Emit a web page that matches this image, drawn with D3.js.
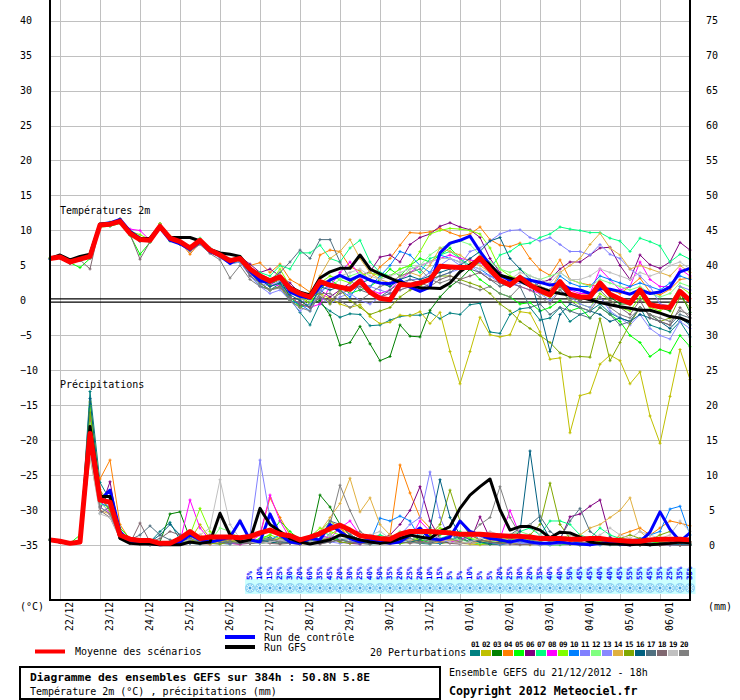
<!DOCTYPE html>
<html>
<head>
<meta charset="utf-8">
<script src="https://cdn.jsdelivr.net/npm/d3@7"></script>
<style>
  body { margin: 0; background: #fff; }
  text { font-family: "DejaVu Sans Mono", monospace; fill: #000; }
</style>
</head>
<body>
<svg class="gefs" width="740" height="700"></svg>
<script>
const dayLabels = ['22/12','23/12','24/12','25/12','26/12','27/12','28/12','29/12','30/12','31/12','01/01','02/01','03/01','04/01','05/01','06/01'];
const tempTicks = [-35,-30,-25,-20,-15,-10,-5,0,5,10,15,20,25,30,35,40];
const precipTicks = [0,5,10,15,20,25,30,35,40,45,50,55,60,65,70,75];
const memberNames = ['01','02','03','04','05','06','07','08','09','10','11','12','13','14','15','16','17','18','19','20'];
const memberColors = ['#008080','#c0c000','#008000','#ff8000','#00ff00','#800080','#00ff80','#ff00ff','#80ff00','#0080ff',
  '#8080ff','#80ff80','#8888ff','#e0b040','#80a800','#006080','#507080','#806870','#c0c0c0','#808080'];

// 2m temperature, every 6h from 21/12 18h
const tMean = [6.0,6.2,5.5,5.9,6.3,10.8,10.9,11.3,9.6,8.7,8.6,10.6,8.9,8.4,7.5,8.6,7.2,6.5,5.7,6.0,
  4.5,3.5,2.8,3.4,1.7,1.0,0.5,2.7,2.2,1.9,1.6,2.8,1.2,0.3,0.1,2.3,2.2,2.5,3.0,4.9,
  4.8,4.7,4.7,6.1,4.4,2.9,2.2,3.3,2.2,1.4,0.8,2.7,0.9,0.5,0.5,2.5,0.9,0.2,-0.4,1.5,-0.6,-0.9,-1.0,1.3,0.0];
const tGfs = [6.0,6.5,5.8,6.3,6.6,10.9,11.0,11.4,9.8,8.8,8.9,10.7,9.0,9.0,9.0,8.5,7.3,6.8,6.6,6.3,
  4.6,3.6,2.9,3.4,1.9,1.2,0.8,3.2,4.1,4.6,4.6,6.5,4.5,3.8,3.2,2.6,2.2,1.8,1.8,1.7,
  2.5,4.1,5.1,6.0,5.1,3.6,3.2,2.8,2.1,1.8,1.3,1.0,0.8,0.5,0.1,-0.3,-0.6,-0.9,-1.1,-1.4,-1.4,-1.8,-2.3,-2.5,-3.1];
const tCtrl = [6.0,6.3,5.6,6.1,6.5,10.9,11.1,11.6,9.9,8.9,8.6,10.4,8.6,8.1,7.3,8.4,7.0,6.4,5.3,6.1,
  4.2,2.8,2.6,3.4,1.2,0.6,0.3,2.0,2.9,3.6,2.9,3.6,2.9,2.5,2.4,2.9,1.9,1.3,1.9,6.8,
  8.2,8.6,9.2,7.0,5.1,3.6,2.9,3.1,2.9,2.6,2.2,2.4,1.7,1.5,1.0,1.7,1.6,1.3,0.9,1.5,1.0,1.2,1.9,4.1,4.6];

const t01 = [6.0,6.3,5.4,6.0,6.6,10.7,10.8,11.2,9.5,8.5,8.7,10.5,8.8,8.0,7.2,8.4,7.0,6.2,5.3,5.5,
  3.6,2.1,1.5,2.4,0.2,-1.7,-3.5,-0.4,-1.5,-2.4,-1.9,-2.0,-3.6,-3.5,-2.8,-2.3,-2.1,-2.1,-1.7,-2.6,
  -1.8,-2.0,-0.6,-0.4,-4.5,-4.7,-2.0,-1.2,-1.0,-2.8,-2.5,-1.0,-3.0,-2.0,-1.5,-0.5,-1.8,-2.5,-3.0,-1.0,-3.5,-4.0,-4.5,-3.0,-5.2];
const t02 = [6.1,6.4,5.8,6.2,6.4,11.0,11.2,11.5,9.8,9.0,8.9,11.0,9.2,8.6,7.8,8.5,7.4,6.3,5.8,6.2,
  4.5,3.0,2.0,2.5,0.5,-0.5,-1.0,1.0,0.3,-0.5,-1.0,-0.6,-2.3,-3.3,-3.1,-2.1,-2.2,-1.6,-3.3,-1.7,
  -7.3,-11.9,-7.3,-2.4,-4.9,-5.2,-4.9,-1.6,-1.8,-4.5,-8.4,-8.2,-18.9,-13.6,-13.2,-9.1,-7.8,-8.6,-11.9,-10.2,-16.5,-20.4,-13.7,-7.0,-11.3];
const t03 = [6.0,6.2,5.3,5.8,6.2,10.6,10.7,11.2,9.4,8.5,8.4,10.4,8.6,8.2,7.4,8.5,7.1,6.4,5.6,5.8,
  4.2,3.0,2.3,3.0,0.5,-0.8,-0.5,0.0,-2.1,-6.4,-6.0,-3.7,-6.2,-8.6,-8.0,-3.5,-5.1,-5.2,-1.4,0.5,
  2.0,3.0,4.5,5.5,4.0,2.5,2.0,3.0,2.0,1.5,0.8,2.0,0.5,0.0,0.5,2.3,0.5,-0.5,-0.5,1.0,-0.8,-1.0,-1.5,1.2,-1.7];
const t04 = [6.0,6.2,5.6,6.0,6.3,10.9,11.0,11.4,9.6,8.8,8.5,10.5,8.8,8.4,6.6,8.3,7.3,6.6,5.9,6.3,
  5.0,5.4,4.0,5.2,3.0,2.2,1.2,6.5,7.2,7.0,4.8,4.2,3.0,4.8,6.0,7.9,9.7,9.6,9.8,10.3,
  9.7,9.2,9.5,10.5,8.7,7.9,7.7,8.2,6.0,4.4,3.6,5.8,3.0,2.5,2.2,2.0,1.5,1.0,2.0,3.2,1.2,0.8,1.6,3.0,3.2];
const t05 = [5.9,6.1,5.4,4.7,6.0,10.5,10.6,11.0,9.3,6.6,8.3,10.2,8.5,8.2,7.2,8.4,7.0,6.2,5.4,5.5,
  4.0,2.5,1.5,2.0,0.5,-1.0,-0.5,1.5,3.0,2.0,1.0,1.5,2.0,3.0,4.5,3.5,5.0,6.0,5.5,6.5,
  7.5,6.0,4.5,3.0,2.0,1.0,0.5,-0.5,-0.3,-1.5,-1.0,0.0,-1.5,-1.0,-2.5,-1.0,-2.0,-3.0,-5.0,-6.0,-8.0,-7.0,-7.5,-5.0,-6.6];
const t06 = [6.0,6.3,5.6,6.1,6.4,10.9,11.0,11.5,9.7,8.8,8.7,10.7,9.0,8.5,7.6,8.7,7.4,6.7,5.9,6.2,
  5.2,4.0,4.5,3.5,2.5,1.0,0.5,1.5,0.5,1.5,2.5,3.5,4.1,6.2,6.5,5.5,8.0,9.0,9.5,10.6,
  11.1,10.5,10.1,9.0,6.0,4.0,2.5,3.0,2.0,2.5,3.0,4.5,5.5,5.5,6.5,7.5,7.6,5.0,3.0,6.5,5.1,4.6,5.5,8.3,7.2];
const t07 = [6.0,6.2,5.5,5.9,6.5,10.8,11.0,11.4,9.8,8.9,8.6,10.7,9.0,8.5,7.5,8.9,7.5,6.6,5.8,6.3,
  4.5,4.0,3.5,5.0,4.5,6.8,6.8,7.9,6.0,5.5,7.5,8.6,5.5,4.0,3.5,4.5,5.0,4.0,6.0,6.5,
  7.0,6.0,5.0,5.5,4.5,6.5,7.0,8.0,8.2,9.0,9.5,10.5,10.2,10.0,9.7,9.7,8.9,8.5,7.0,8.9,8.4,7.8,5.5,6.6,5.9];
const t08 = [6.0,6.2,5.5,5.8,6.3,10.7,10.9,11.2,10.2,10.0,8.6,10.6,8.8,8.3,7.4,8.5,7.1,6.4,5.6,5.9,
  4.2,3.0,2.5,2.0,0.5,-0.5,-1.0,-0.5,2.0,4.0,5.5,3.5,1.5,1.0,1.5,3.0,4.0,5.0,5.5,6.0,
  6.5,6.0,5.8,5.5,4.0,3.0,2.5,2.0,1.5,1.0,1.5,2.5,1.5,1.0,1.0,4.5,3.0,1.5,2.0,5.5,3.0,2.0,2.0,4.5,3.5];
const t09 = [6.0,6.3,5.6,6.0,6.4,10.9,11.1,11.6,9.9,9.4,8.7,10.7,9.0,8.5,7.6,8.8,7.3,6.5,5.9,6.2,
  4.8,3.5,2.5,4.5,2.0,0.5,-0.5,2.5,3.5,3.0,2.5,3.5,4.0,3.5,3.5,4.5,5.0,7.0,9.5,10.0,
  10.3,10.2,10.0,9.5,7.5,4.5,3.5,3.0,2.0,1.0,0.5,1.5,0.0,-0.5,-1.0,1.0,0.0,-1.0,-1.5,0.5,-1.0,-1.5,-0.5,2.0,1.0];
const t10 = [5.9,6.1,5.4,5.8,6.2,10.7,10.8,11.2,9.5,8.6,8.5,10.4,8.7,8.2,7.3,8.4,7.0,6.3,5.5,5.8,
  4.0,3.0,2.0,2.5,0.0,-0.5,-1.5,1.0,2.5,1.5,0.5,2.5,2.0,3.5,5.0,7.0,6.5,5.0,4.0,6.5,
  6.0,5.5,5.0,4.5,3.5,3.0,2.5,3.5,3.0,2.0,1.5,3.5,2.5,2.0,2.0,3.5,3.0,2.5,2.0,2.5,2.0,1.5,2.5,3.5,3.0];
const t11 = [6.0,6.2,5.5,5.9,6.3,10.8,10.9,11.3,9.6,8.7,8.6,10.6,8.9,8.4,7.5,8.6,7.2,6.5,5.7,6.0,
  3.8,2.5,2.0,2.8,1.5,0.5,-1.0,1.5,2.0,1.5,2.0,2.5,2.0,1.5,1.0,2.0,3.0,3.0,4.0,5.0,
  6.0,5.0,7.0,7.5,8.5,9.5,10.0,10.1,9.0,8.5,9.0,8.0,7.0,7.0,6.5,8.0,6.6,6.0,4.5,3.5,2.0,-0.5,-0.8,2.0,1.5];
const t12 = [6.1,6.4,5.7,6.1,6.5,11.0,11.1,11.5,9.7,8.9,8.8,10.9,9.1,8.6,7.7,8.7,7.3,6.6,5.8,6.2,
  4.5,3.5,3.0,3.5,1.5,0.5,0.0,2.5,2.0,3.0,3.5,4.0,3.0,2.5,2.0,3.0,4.5,5.0,6.5,7.5,
  8.0,8.5,8.0,6.5,5.5,4.5,4.0,4.5,3.5,3.0,3.5,4.0,3.0,2.5,2.0,3.0,2.5,2.0,1.5,2.0,1.0,0.5,1.0,2.5,2.0];
const t13 = [5.9,6.1,5.3,5.7,6.1,10.6,10.7,11.1,9.4,8.5,8.4,10.3,8.6,8.1,7.2,8.2,6.9,6.1,5.2,5.5,
  3.5,2.0,1.0,1.5,0.0,-1.5,-0.5,0.5,-0.5,0.5,1.0,0.0,-0.5,0.5,1.0,1.5,2.0,1.5,2.5,3.5,
  4.0,4.5,5.0,4.0,3.5,2.5,2.0,2.5,2.0,1.0,0.0,1.5,0.5,-0.5,-1.0,0.5,-1.5,-2.5,-3.5,-2.0,-4.0,-5.0,-5.5,-3.0,-4.0];
const t14 = [6.0,6.3,5.6,6.0,6.4,10.9,11.0,11.4,9.7,8.8,8.7,10.7,9.0,8.5,7.6,8.7,7.3,6.6,5.8,6.1,
  4.6,3.3,2.5,3.0,1.5,0.0,1.0,3.5,6.0,7.0,8.7,6.0,4.0,3.0,2.5,3.5,4.0,3.5,5.0,7.5,
  7.0,6.5,5.5,5.0,4.0,3.0,2.5,3.5,2.5,2.0,1.5,4.0,5.0,6.0,8.0,9.6,7.5,6.5,4.5,5.0,4.5,4.0,3.5,5.0,4.0];
const t15 = [6.0,6.2,5.5,5.9,6.3,10.8,11.0,11.7,9.6,8.7,8.6,11.0,8.9,8.4,7.5,8.6,7.2,6.5,5.7,6.0,
  4.0,2.5,1.5,2.0,0.0,-1.0,0.5,1.0,-0.5,1.5,0.0,-1.0,-2.0,-1.5,-1.0,0.5,1.5,2.0,3.0,3.5,
  3.5,3.0,2.5,2.0,1.0,-0.5,-1.5,-3.0,-4.0,-5.0,-6.0,-7.5,-8.1,-8.0,-8.1,-2.6,-8.6,-6.0,-3.3,-1.0,-2.0,-3.0,-2.5,0.5,-1.0];
const t16 = [6.0,6.2,5.4,5.8,6.2,10.7,10.8,11.2,9.5,8.6,8.5,10.5,8.8,8.3,7.4,8.5,7.1,6.4,5.6,5.9,
  4.3,3.0,2.0,2.5,0.8,0.0,-1.0,2.0,1.5,2.0,1.5,2.5,3.0,2.5,2.0,3.0,3.5,3.0,3.5,4.0,
  4.5,5.0,6.0,7.0,8.5,9.0,6.0,4.5,3.0,-1.5,-7.3,-2.0,-0.5,-1.0,-1.5,-2.0,-3.0,-2.5,-3.0,-2.0,-2.5,-3.0,-4.0,-2.5,-3.5];
const t17 = [6.0,6.3,5.5,6.0,6.3,10.8,11.0,11.3,9.6,8.7,8.6,10.6,8.9,8.3,7.5,8.6,7.2,6.5,5.7,6.0,
  4.4,3.5,3.0,4.0,5.5,7.2,6.0,8.7,8.7,5.5,3.0,1.5,1.0,0.5,1.5,2.5,3.0,2.5,3.0,3.5,
  4.0,5.0,4.5,4.0,3.0,2.0,2.5,2.0,-1.0,-0.5,-2.0,-1.0,-1.5,-2.0,-2.5,-1.0,-2.0,-3.5,-3.0,-1.0,-2.0,-3.0,-3.5,-2.0,-2.5];
const t18 = [6.0,6.2,5.4,5.8,4.5,10.7,10.8,11.2,9.5,5.9,8.4,10.4,8.7,8.2,7.3,8.4,7.0,6.3,5.5,5.8,
  3.5,2.5,1.5,2.0,0.5,-0.5,-1.0,0.5,0.0,1.0,1.5,2.0,1.0,0.5,1.0,1.5,2.0,2.5,2.0,3.0,
  3.5,3.0,3.5,4.0,3.0,2.5,2.0,3.0,2.0,1.5,1.0,2.0,0.5,0.0,0.5,1.5,0.0,-1.0,-2.0,0.0,-2.5,-3.0,-3.5,-1.0,-2.5];
const t19 = [6.0,6.3,5.6,6.0,6.4,10.9,11.1,11.5,9.7,8.8,8.7,10.8,9.0,8.5,7.6,8.7,7.3,6.6,5.8,6.1,
  4.6,3.4,2.8,3.5,2.0,1.0,0.5,2.5,3.0,3.5,4.0,4.5,3.5,3.0,3.5,4.0,4.5,5.0,5.5,6.0,
  6.0,5.5,5.0,4.5,4.0,3.5,3.0,4.0,3.5,3.0,2.5,4.0,3.0,3.0,3.5,4.5,4.0,3.5,3.0,4.0,3.5,4.0,5.0,5.5,4.5];
const t20 = [6.0,6.1,5.5,5.8,6.0,10.6,10.7,11.1,9.4,8.5,8.4,10.3,8.6,8.0,7.0,8.0,6.7,5.8,3.2,5.0,
  3.0,2.0,1.5,1.8,0.0,-1.0,-1.5,1.0,1.0,0.0,-1.0,0.0,1.0,2.0,2.5,3.5,4.0,4.5,3.0,2.5,
  3.0,2.5,2.0,1.5,2.0,1.0,0.5,2.0,1.5,0.5,-0.5,1.5,0.0,-1.0,-1.5,0.5,-1.0,-2.0,-2.5,-1.0,-2.0,-2.5,-3.0,-1.5,-2.0];

// precipitation (mm / 6h)
const pMean = [0.8,0.6,0.3,0.5,16.0,6.5,6.2,1.5,0.9,0.7,0.7,0.3,0.3,1.0,2.0,1.0,1.2,1.2,1.2,1.1,
  1.3,1.8,2.2,1.6,1.4,0.8,1.2,1.7,2.4,2.9,2.2,1.4,1.2,1.0,0.9,1.6,2.0,2.0,2.0,1.9,
  1.8,1.6,1.6,1.6,1.5,1.4,1.3,1.3,1.2,1.0,1.0,1.0,0.9,0.9,1.0,1.0,0.8,0.7,0.6,0.6,0.8,0.9,0.9,0.9,0.8];
const pGfs = [0.9,0.5,0.3,0.5,17.0,7.0,7.0,1.0,0.3,0.2,0.2,0.1,0.1,0.1,0.5,0.3,0.5,4.6,1.5,0.5,
  0.8,5.3,3.0,2.0,1.0,0.5,0.2,0.5,0.8,1.5,1.2,0.8,0.5,0.3,0.5,1.0,1.5,1.2,1.0,2.0,
  2.7,5.3,7.2,8.4,9.5,5.1,2.2,2.7,2.7,2.2,1.1,1.9,1.8,1.2,0.5,0.3,0.2,0.2,0.1,0.2,0.1,0.2,0.3,0.5,0.4];
const pCtrl = [0.8,0.5,0.3,0.5,15.0,6.5,7.9,2.0,0.5,0.3,0.3,0.1,0.2,0.5,1.5,0.8,0.5,0.8,1.2,3.5,
  0.8,0.5,4.5,1.5,0.5,0.3,1.0,0.8,3.0,2.0,1.0,0.5,0.8,0.5,0.3,0.5,1.5,2.5,1.0,0.8,
  1.2,3.5,2.0,1.5,1.0,0.8,0.5,0.8,0.5,0.3,0.3,0.5,0.3,0.2,0.1,0.3,0.5,0.2,0.1,0.5,1.9,4.8,2.3,0.6,1.8];

const p01 = [0.9,0.5,0.3,0.6,22.0,9.0,6.5,1.5,0.5,0.3,0.5,2.0,3.3,0.8,0.3,0.2,0.5,0.3,0.2,0.5,
  0.3,0.8,1.2,0.5,0.3,0.2,0.5,0.8,1.5,0.8,0.5,0.3,0.2,0.3,0.8,1.2,0.5,0.3,0.2,0.5,
  0.8,1.2,0.5,0.3,0.2,0.1,0.3,0.5,0.3,0.2,0.1,0.2,0.3,0.5,0.2,0.1,0.2,0.3,0.2,0.1,0.2,0.3,0.5,0.3,0.2];
const p02 = [0.8,0.6,0.3,0.5,20.5,8.0,5.5,1.0,0.3,0.2,0.2,0.3,0.5,0.2,0.8,3.0,1.0,0.5,0.3,0.2,
  0.5,0.8,0.5,0.3,0.5,0.2,0.3,0.8,1.5,2.5,1.5,0.8,0.5,0.3,0.2,0.5,1.0,0.8,0.5,0.3,
  0.5,0.3,0.2,0.1,0.3,0.5,0.3,0.2,0.1,0.2,0.3,0.5,0.2,0.1,0.1,0.2,0.3,0.2,0.1,0.1,0.2,0.1,0.2,0.1,0.1];
const p03 = [0.8,0.5,0.3,0.8,18.0,7.5,6.0,1.8,0.5,0.3,0.2,0.5,4.5,4.8,1.0,0.5,0.3,0.5,0.8,0.5,
  0.3,0.5,1.0,0.8,0.5,0.3,0.8,7.2,5.5,3.0,1.5,0.8,0.5,0.3,0.5,1.0,1.5,0.8,0.5,0.3,
  0.5,1.0,0.5,0.3,0.2,0.3,0.5,0.3,0.2,0.1,0.2,0.3,0.2,0.1,0.2,0.5,0.3,0.2,0.1,0.2,0.3,0.5,0.3,0.2,0.5];
const p04 = [0.9,0.6,0.4,0.5,13.0,9.5,12.2,3.0,0.8,0.3,0.2,0.3,0.2,0.5,0.8,1.5,0.8,0.5,0.3,0.5,
  0.8,1.5,6.8,4.0,1.5,0.8,0.5,2.0,3.5,2.5,1.0,0.5,0.3,0.8,1.5,11.5,7.5,4.0,2.5,1.0,
  0.8,0.5,0.3,0.5,1.0,0.8,0.5,0.3,0.2,0.5,0.3,0.2,0.5,1.0,0.8,0.5,0.3,1.5,2.0,2.5,1.5,2.5,3.5,3.2,2.8];
const p05 = [0.8,0.5,0.3,1.5,19.5,7.0,5.0,2.5,1.0,0.5,0.3,0.2,0.5,0.3,0.5,0.8,0.5,0.3,0.5,0.3,
  0.5,1.0,1.5,3.5,2.0,0.8,0.5,1.5,1.0,0.8,0.5,0.3,0.5,0.8,0.5,0.3,0.5,0.8,0.5,1.5,
  2.0,1.0,0.5,0.3,0.5,0.8,1.0,0.5,0.3,0.2,0.1,0.1,0.2,0.1,0.1,0.2,0.1,0.1,0.2,0.1,0.1,0.2,0.1,0.1,0.1];
const p06 = [0.8,0.5,0.3,0.5,16.0,5.0,9.1,1.5,0.5,0.2,0.1,0.2,0.3,0.2,0.5,0.3,0.2,0.5,0.3,0.2,
  0.3,0.5,0.8,0.5,0.3,0.2,0.5,0.8,1.0,0.5,0.3,0.2,0.5,0.8,1.5,3.0,5.0,8.4,3.5,1.0,
  0.5,0.3,0.5,4.1,1.0,0.5,0.3,0.8,0.5,0.3,0.5,0.8,4.1,4.5,5.6,6.5,1.2,0.5,0.3,0.2,0.2,0.1,0.1,0.1,0.0];
const p07 = [0.8,0.5,0.3,0.5,17.0,6.0,5.5,1.0,0.3,0.2,0.3,0.5,0.3,0.2,0.5,0.8,1.5,1.0,0.5,0.3,
  0.5,0.3,0.5,1.0,0.8,0.5,1.2,2.0,1.5,1.0,0.5,0.8,1.0,1.5,1.0,0.5,0.8,1.5,2.0,1.0,
  1.5,2.0,1.0,0.5,0.8,1.5,1.0,2.0,2.5,1.5,3.5,3.5,3.0,1.5,1.0,2.5,1.5,1.0,0.8,0.5,0.3,0.5,0.3,0.2,0.1];
const p08 = [0.8,0.5,0.3,0.5,18.5,6.5,4.5,1.0,0.3,0.2,0.1,0.2,0.3,0.5,6.5,2.5,0.8,0.5,0.3,0.2,
  0.5,1.5,7.2,3.5,1.0,0.5,0.8,1.5,1.0,2.5,3.5,1.5,0.8,0.5,0.3,0.5,1.0,3.5,2.0,0.8,
  0.5,0.8,1.5,0.8,0.5,1.0,5.0,1.5,0.3,0.2,0.3,0.5,0.3,0.2,0.1,0.2,0.3,0.2,0.1,0.5,0.8,0.5,0.3,0.8,0.5];
const p09 = [0.8,0.5,0.3,0.5,20.0,7.0,5.0,1.0,0.3,0.2,0.2,0.3,0.5,0.8,1.5,5.3,2.0,0.8,0.5,0.3,
  0.5,0.8,1.5,1.0,0.5,0.8,1.2,2.5,2.0,1.5,1.0,0.8,0.5,0.3,0.5,0.8,1.0,0.8,1.5,2.5,
  2.0,1.5,1.0,0.8,0.5,0.3,0.5,1.0,0.8,0.5,0.3,0.5,0.8,0.5,0.3,0.5,0.3,0.2,0.5,0.3,0.2,0.5,0.3,0.2,0.1];
const p10 = [0.8,0.5,0.3,0.5,15.0,6.0,5.5,1.2,0.3,0.2,0.1,0.2,0.3,0.2,0.5,0.8,0.5,0.3,0.5,0.8,
  1.0,0.5,0.8,1.5,1.0,0.5,0.3,1.5,2.5,3.0,1.5,0.8,0.5,3.9,3.5,4.2,3.5,1.0,0.5,0.3,
  0.8,1.5,2.0,0.8,0.5,0.3,0.5,0.8,0.5,0.3,0.2,0.5,0.8,0.3,0.2,0.1,0.3,0.5,0.8,1.0,1.5,2.0,5.2,5.6,1.5];
const p11 = [0.8,0.5,0.3,0.5,14.0,5.5,4.5,1.0,0.3,0.2,0.1,0.2,0.3,0.2,0.5,1.0,0.8,0.5,0.3,0.5,
  1.5,12.2,4.0,1.5,0.5,0.3,0.5,0.8,1.5,1.0,0.5,0.3,0.5,0.8,0.5,1.5,3.0,4.0,10.5,4.0,
  0.8,0.5,0.3,0.5,0.3,0.2,0.3,0.5,0.3,0.2,0.1,0.2,0.3,0.2,0.1,0.2,0.1,0.1,0.2,0.1,0.1,0.2,0.1,0.1,0.1];
const p12 = [0.8,0.5,0.3,0.5,17.5,6.0,5.0,1.5,0.5,0.3,0.2,0.3,0.5,0.3,0.8,1.0,0.5,2.5,2.0,1.0,
  0.5,0.8,1.0,0.5,0.3,0.5,1.0,2.0,3.5,2.0,1.0,0.5,0.3,0.5,1.0,2.0,1.5,1.0,0.5,0.8,
  1.0,0.8,0.5,0.3,0.5,0.8,1.5,2.0,1.5,1.0,0.8,1.0,1.5,1.0,0.5,0.3,0.5,0.3,0.2,0.1,0.2,0.3,0.2,0.1,0.1];
const p13 = [0.8,0.5,0.3,0.5,16.5,6.5,5.5,1.0,0.3,0.2,0.3,0.2,0.1,0.2,0.3,0.5,0.3,0.2,0.5,0.8,
  0.5,0.3,0.5,0.8,0.5,0.3,0.5,0.8,0.5,0.3,0.5,0.8,1.0,0.5,0.3,0.5,0.8,0.5,0.3,0.5,
  0.8,0.5,0.3,0.5,0.8,1.0,0.5,0.3,0.2,0.1,0.2,0.3,0.2,0.1,0.1,0.2,0.3,0.2,0.1,0.1,0.1,0.2,0.1,0.1,0.1];
const p14 = [0.8,0.5,0.3,0.5,12.5,5.0,4.5,1.5,0.5,0.3,0.2,0.3,0.2,0.3,0.5,0.3,0.2,0.5,0.8,0.5,
  0.3,0.5,0.8,1.0,0.8,0.5,1.0,2.0,4.0,6.0,9.6,4.8,6.8,3.0,1.5,1.0,0.8,0.5,0.3,0.5,
  0.8,0.5,0.3,0.5,0.8,0.5,1.0,0.8,0.5,0.3,0.5,0.8,1.0,1.5,2.5,3.0,4.0,5.0,6.8,2.0,0.8,0.5,0.5,0.3,0.2];
const p15 = [0.8,0.5,0.3,0.5,19.0,7.0,5.0,1.2,0.3,0.2,0.1,0.2,0.3,0.5,0.8,0.5,0.3,0.2,0.5,0.8,
  0.5,0.3,0.5,1.0,1.5,1.0,0.5,0.8,1.0,0.5,0.3,0.5,0.8,1.0,0.5,0.3,0.5,0.8,1.5,3.0,
  7.9,3.5,1.5,0.8,0.5,0.3,0.5,0.8,1.5,3.0,8.9,3.0,1.0,0.5,0.3,0.5,0.8,1.0,1.5,1.0,0.8,1.5,2.0,1.0,0.5];
const p16 = [0.8,0.5,0.3,0.8,21.0,7.5,6.0,1.5,0.5,0.3,0.5,1.5,3.0,1.5,0.5,0.3,0.5,0.8,0.5,0.3,
  0.5,0.8,0.5,0.3,0.5,0.8,0.5,0.3,0.5,0.8,1.0,0.5,0.3,0.5,0.8,1.0,0.5,0.8,2.5,9.4,
  4.0,1.5,0.8,0.5,0.3,0.5,0.8,2.0,13.5,3.5,1.0,0.5,0.3,0.2,0.5,0.3,0.2,0.1,0.2,0.3,0.2,0.1,0.2,0.1,0.1];
const p17 = [0.8,0.5,0.3,0.5,15.5,4.6,5.5,2.0,0.8,1.5,2.8,1.5,0.8,0.5,0.3,0.5,0.8,0.5,0.3,0.5,
  0.3,0.5,0.8,0.5,0.3,0.5,0.3,1.0,3.5,3.0,1.5,0.8,0.5,0.3,0.5,0.8,1.0,0.5,0.3,0.8,
  1.5,1.0,0.5,0.8,1.2,1.0,1.5,2.5,3.0,4.2,2.0,1.0,3.5,5.3,2.0,1.0,0.5,0.8,0.5,0.3,0.2,0.3,0.5,0.3,0.2];
const p18 = [0.8,0.5,0.3,0.5,13.5,5.0,4.0,1.0,0.3,3.2,0.5,1.0,2.0,1.5,0.5,0.3,0.5,1.0,0.8,3.6,
  0.3,0.5,0.3,0.2,0.3,0.5,0.3,0.2,0.5,0.8,0.5,0.3,0.2,0.5,0.8,0.5,0.3,0.5,0.8,0.5,
  0.3,0.2,0.5,0.8,0.5,0.3,0.2,0.1,0.2,0.3,0.5,0.3,0.2,0.1,0.2,0.3,0.2,0.1,0.1,0.0,0.0,0.0,0.1,0.0,0.0];
const p19 = [0.8,0.5,0.3,0.5,12.8,4.5,4.0,1.0,0.3,0.2,0.1,0.2,0.3,0.5,0.8,1.5,2.5,9.4,3.0,1.0,
  0.5,0.3,0.5,0.8,0.5,0.3,0.5,0.8,1.5,1.0,0.8,0.5,1.5,2.0,1.0,0.5,0.8,1.5,2.0,1.0,
  0.5,0.3,0.5,1.0,2.0,1.5,1.0,2.5,3.0,1.5,1.0,2.0,1.5,1.0,0.8,1.5,2.5,1.5,1.0,2.0,1.5,1.0,1.5,3.5,2.0];
const p20 = [0.8,0.5,0.3,0.5,14.5,5.5,4.5,1.2,0.5,0.3,0.2,0.3,0.5,0.8,1.0,0.5,1.5,0.8,0.5,0.3,
  0.5,0.8,1.0,0.5,0.8,0.5,1.0,1.5,3.0,8.6,5.0,2.0,1.0,0.5,0.8,1.0,0.5,0.3,0.5,0.8,
  1.0,0.5,1.5,3.0,4.0,8.4,4.0,1.5,0.8,0.5,0.3,0.5,0.8,0.5,0.3,0.2,0.5,0.8,0.5,0.3,0.5,0.8,1.0,0.5,0.3];

// snow chance (%) and cover band, from step 20 (26/12 18h)
const snowPct = [5,10,15,25,30,20,60,35,45,20,30,25,40,50,35,20,25,20,10,15,5,5,10,
  5,5,20,25,30,20,35,40,40,50,45,45,40,40,45,55,55,45,35,25,35,35];
const snowBand = [1,1,1,5,5,3,2,2,2,2,2,2,2,3,3,3,2,2,2,2,2,2,1,
  1,1,4,4,4,5,5,5,6,11,11,12,12,12,12,12,12,12,12,12,12,12];

const tempMembers = [t01,t02,t03,t04,t05,t06,t07,t08,t09,t10,t11,t12,t13,t14,t15,t16,t17,t18,t19,t20];
const precipMembers = [p01,p02,p03,p04,p05,p06,p07,p08,p09,p10,p11,p12,p13,p14,p15,p16,p17,p18,p19,p20];

const svg = d3.select('.gefs');
const margin = { left: 50, top: 0, right: 50, bottom: 100 };
const width = 740 - margin.left - margin.right;
const height = 700 - margin.top - margin.bottom;
const firstSnowStep = 20;
const fs = 10;

const x = d3.scaleLinear().domain([0, 64]).range([margin.left, margin.left + width]);
const y = d3.scaleLinear().domain([-42.79, 42.93]).range([height, 0]);
const yP = d3.scaleLinear().domain([-7.79, 77.93]).range([height, 0]);
const band = d3.scaleLinear().domain([0, 12]).range([580, 568]);
const dayTicks = dayLabels.map((d, i) => 1 + i * 4);

svg.append('rect').attr('width', 740).attr('height', 700).attr('fill', '#fff');

// grid
svg.append('g')
    .attr('transform', `translate(${margin.left},0)`)
    .call(d3.axisLeft(y).tickValues(tempTicks.filter(d => d !== 0)).tickSize(-width).tickFormat(''))
    .call(g => g.select('.domain').remove())
    .selectAll('line')
    .attr('stroke', '#c0c0c0')
    .attr('shape-rendering', 'crispEdges');

svg.append('g')
    .attr('transform', `translate(0,${height})`)
    .call(d3.axisBottom(x).tickValues(dayTicks).tickSize(-height).tickFormat(''))
    .call(g => g.select('.domain').remove())
    .selectAll('line')
    .attr('stroke', '#c0c0c0')
    .attr('shape-rendering', 'crispEdges');

// zero line (double)
[-1.7, 1.7].forEach(off => {
    svg.append('line')
        .attr('x1', margin.left).attr('x2', margin.left + width)
        .attr('y1', y(0) + off).attr('y2', y(0) + off)
        .attr('stroke', '#000').attr('stroke-width', 1.2);
});

// snow band + flakes
const snowG = svg.append('g');
snowG.selectAll('rect')
    .data(snowBand)
    .join('rect')
    .attr('x', (d, i) => x(i + firstSnowStep) - 5)
    .attr('width', 10.5)
    .attr('y', d => band(d))
    .attr('height', d => 594 - band(d))
    .attr('fill', '#ccffff');

const flakes = snowG.selectAll('g.flake')
    .data(snowBand)
    .join('g')
    .attr('class', 'flake')
    .attr('transform', (d, i) => `translate(${x(i + firstSnowStep)},588)`);
flakes.append('circle').attr('r', 5).attr('fill', '#8fd3f3');
flakes.append('path')
    .attr('d', 'M-4,0H4M0,-4V4M-3,-3L3,3M-3,3L3,-3')
    .attr('stroke', '#e8f8ff').attr('stroke-width', 1);
flakes.append('circle').attr('r', 1.2).attr('fill', '#3b9fe0');

snowG.selectAll('text')
    .data(snowPct)
    .join('text')
    .attr('transform', (d, i) => `translate(${x(i + firstSnowStep) + 2},580) rotate(-90)`)
    .attr('font-size', 7.5)
    .attr('font-weight', 'bold')
    .style('fill', '#0000ff')
    .text(d => d + '%');

// series
const tLine = d3.line().x((d, i) => x(i)).y(d => y(d));
const pLine = d3.line().x((d, i) => x(i)).y(d => yP(d));
const crosses = (data, scale) => data.map((d, i) => `M${x(i) - 1.5},${scale(d)}h3M${x(i)},${scale(d) - 1.5}v3`).join('');

const drawMembers = (members, line, scale) => {
    const g = svg.append('g').attr('fill', 'none');
    members.forEach((m, k) => {
        g.append('path').attr('d', line(m)).attr('stroke', memberColors[k]).attr('stroke-width', 1);
        g.append('path').attr('d', crosses(m, scale)).attr('stroke', memberColors[k]).attr('stroke-width', 1);
    });
};
drawMembers(precipMembers, pLine, yP);
drawMembers(tempMembers, tLine, y);

const mains = svg.append('g').attr('fill', 'none').attr('stroke-linejoin', 'round');
mains.append('path').attr('d', pLine(pCtrl)).attr('stroke', '#0000ff').attr('stroke-width', 3);
mains.append('path').attr('d', pLine(pGfs)).attr('stroke', '#000').attr('stroke-width', 3);
mains.append('path').attr('d', tLine(tCtrl)).attr('stroke', '#0000ff').attr('stroke-width', 3);
mains.append('path').attr('d', tLine(tGfs)).attr('stroke', '#000').attr('stroke-width', 3);
mains.append('path').attr('d', pLine(pMean)).attr('stroke', '#ff0000').attr('stroke-width', 5);
mains.append('path').attr('d', tLine(tMean)).attr('stroke', '#ff0000').attr('stroke-width', 5);

// frame
svg.append('path')
    .attr('d', `M${margin.left},0V${height}H${margin.left + width}V0`)
    .attr('fill', 'none').attr('stroke', '#000').attr('stroke-width', 2);

// axes labels
const leftAxis = svg.append('g')
    .attr('transform', `translate(${margin.left},0)`)
    .call(d3.axisLeft(y).tickValues(tempTicks).tickSize(0));
leftAxis.select('.domain').remove();
leftAxis.attr('font-family', null).attr('font-size', fs);
leftAxis.selectAll('text').attr('x', -30).attr('text-anchor', 'start');

const rightAxis = svg.append('g')
    .attr('transform', `translate(${margin.left + width},0)`)
    .call(d3.axisRight(yP).tickValues(precipTicks).tickSize(0));
rightAxis.select('.domain').remove();
rightAxis.attr('font-family', null).attr('font-size', fs);
rightAxis.selectAll('text').attr('x', 22).attr('text-anchor', 'middle');

const dateAxis = svg.append('g')
    .attr('transform', `translate(0,${height})`)
    .call(d3.axisBottom(x).tickValues(dayTicks).tickSize(0).tickFormat((d, i) => dayLabels[i]));
dateAxis.select('.domain').remove();
dateAxis.attr('font-family', null).attr('font-size', 9.6);
dateAxis.selectAll('text')
    .attr('transform', 'rotate(-90)')
    .attr('x', -2).attr('y', 12).attr('dy', 0)
    .attr('text-anchor', 'end');

const label = (tx, ty, str, size, bold) => svg.append('text')
    .attr('x', tx).attr('y', ty)
    .attr('font-size', size)
    .attr('font-weight', bold ? 'bold' : 'normal')
    .text(str);

label(60, 214, 'Températures 2m', fs);
label(60, 388, 'Précipitations', fs);
label(20, 610, '(°C)', fs);
label(708, 610, '(mm)', fs);

// legend
const legend = svg.append('g');
legend.append('line').attr('x1', 35).attr('x2', 65).attr('y1', 651.5).attr('y2', 651.5)
    .attr('stroke', '#ff0000').attr('stroke-width', 4);
legend.append('line').attr('x1', 225).attr('x2', 255).attr('y1', 637).attr('y2', 637)
    .attr('stroke', '#0000ff').attr('stroke-width', 4);
legend.append('line').attr('x1', 225).attr('x2', 255).attr('y1', 647).attr('y2', 647)
    .attr('stroke', '#000').attr('stroke-width', 4);
label(75, 655, 'Moyenne des scénarios', fs);
label(264, 641, 'Run de contrôle', fs);
label(264, 651, 'Run GFS', fs);
label(370, 656, '20 Perturbations', fs);

legend.selectAll('rect.sw')
    .data(memberNames)
    .join('rect')
    .attr('class', 'sw')
    .attr('x', (d, i) => 470 + i * 11)
    .attr('y', 650)
    .attr('width', 10)
    .attr('height', 6)
    .attr('fill', (d, i) => memberColors[i]);
legend.selectAll('text.num')
    .data(memberNames)
    .join('text')
    .attr('class', 'num')
    .attr('x', (d, i) => 475 + i * 11)
    .attr('y', 647)
    .attr('text-anchor', 'middle')
    .attr('font-size', 7.5)
    .attr('font-weight', 'bold')
    .attr('letter-spacing', -0.5)
    .text(d => d);

// footer
svg.append('rect')
    .attr('x', 20).attr('y', 667).attr('width', 420).attr('height', 32)
    .attr('fill', 'none').attr('stroke', '#000').attr('stroke-width', 2);
label(30, 681, 'Diagramme des ensembles GEFS sur 384h : 50.8N 5.8E', 11.3, true);
label(30, 695, 'Température 2m (°C) , précipitations (mm)', fs);
label(449, 676, 'Ensemble GEFS du 21/12/2012 - 18h', fs);
label(449, 695, 'Copyright 2012 Meteociel.fr', 11.6, true);
</script>
</body>
</html>
